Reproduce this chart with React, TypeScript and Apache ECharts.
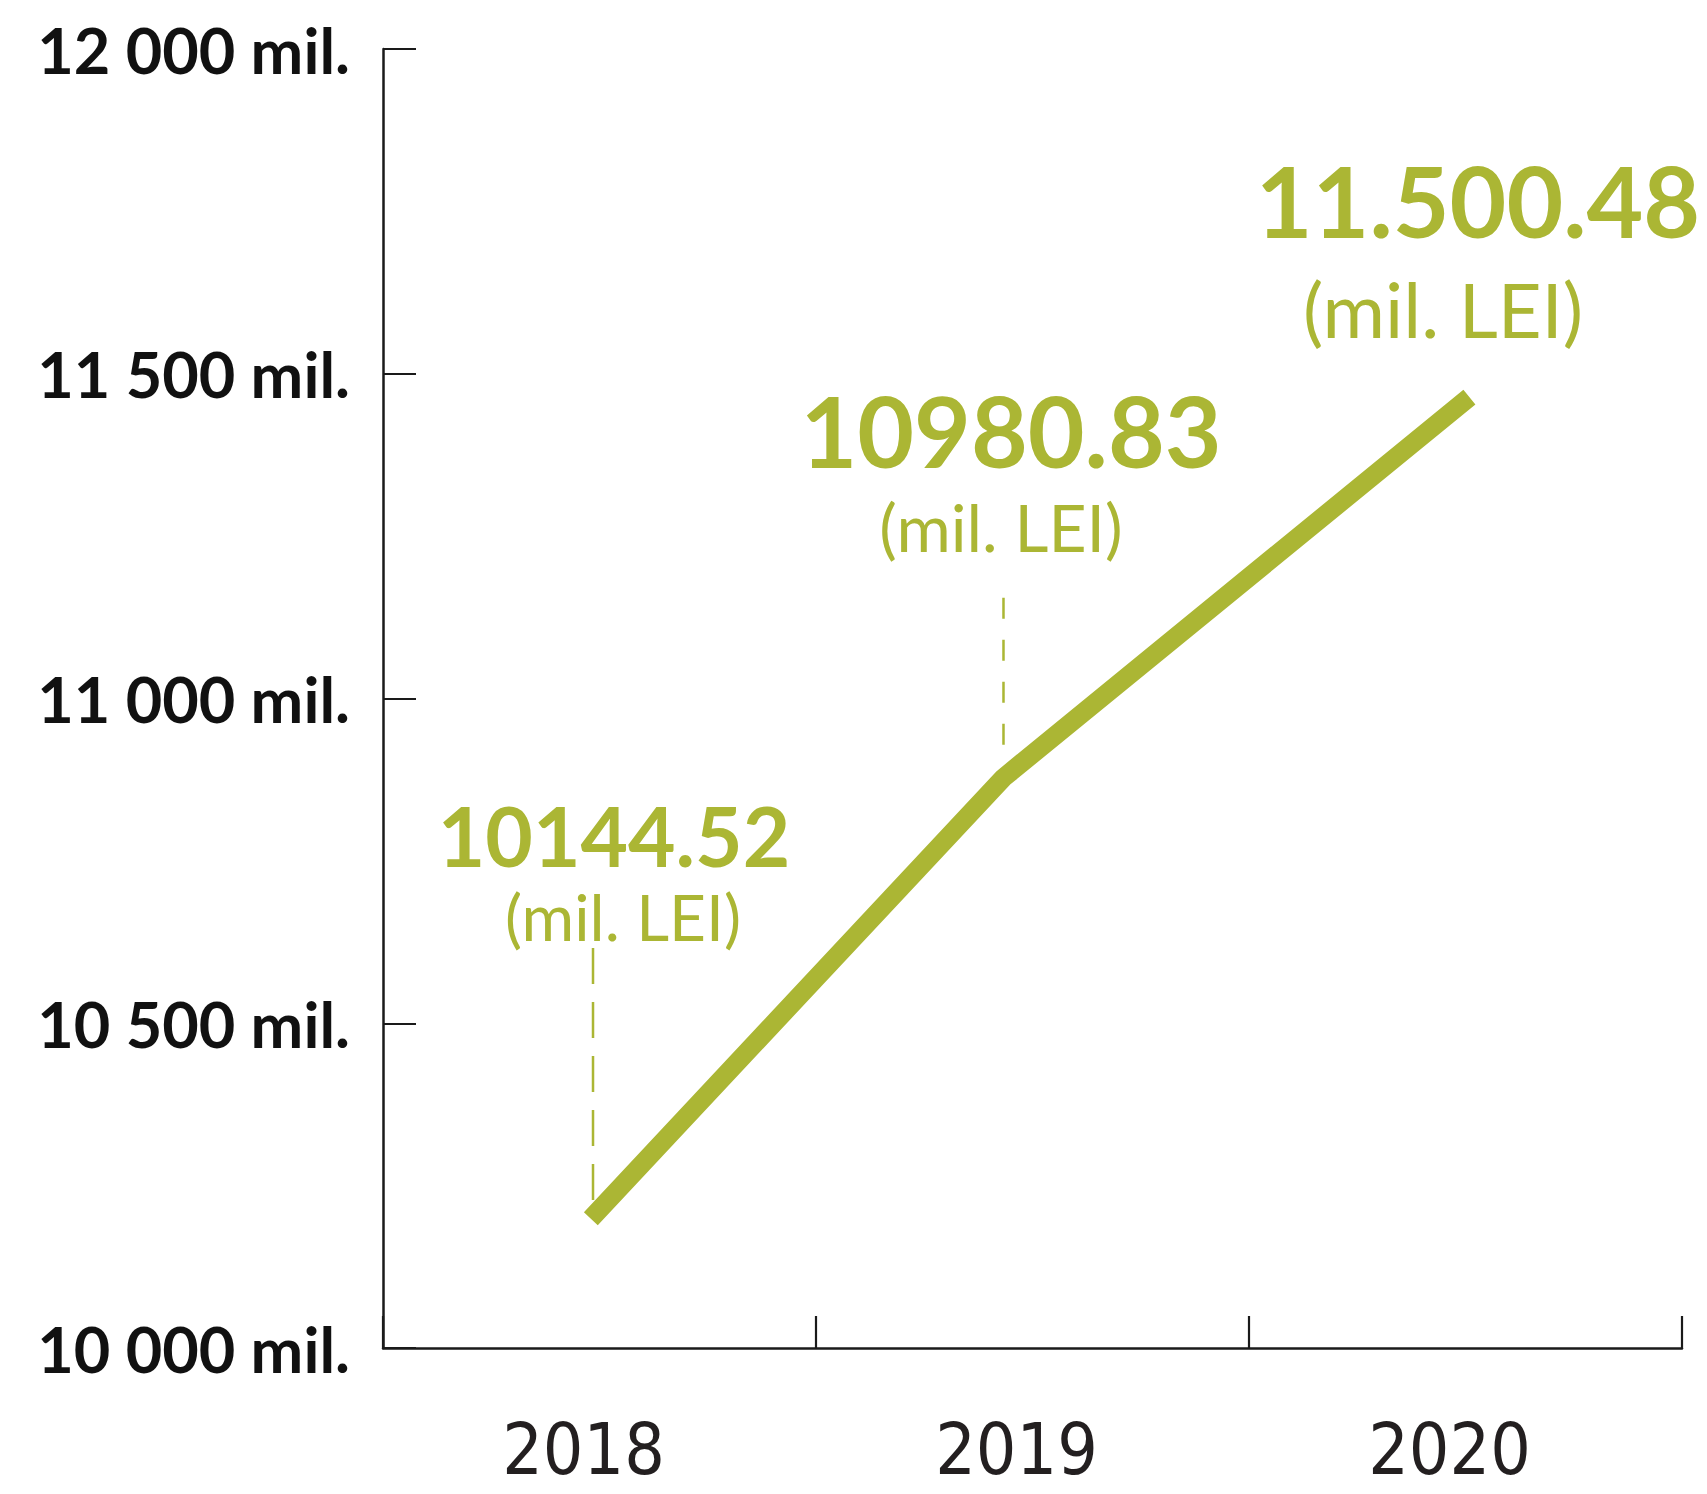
import React, { useEffect, useRef } from "react";
import * as echarts from "echarts";

// ---- data ----
const years = ["2018", "2019", "2020"];
// horizontal position of each yearly point on a hidden 0..3 value axis
const pointPositions = [0.48, 1.433, 2.509];
// vertical values of the drawn line
const lineValues = [10199, 10878, 11464];
// printed value labels
const valueLabels = ["10144.52", "10980.83", "11.500.48"];
const unitLabel = "(mil. LEI)";
// y-axis ticks and labels
const yTicks = [10000, 10500, 11000, 11500, 12000];
const yTickLabels = ["10 000 mil.", "10 500 mil.", "11 000 mil.", "11 500 mil.", "12 000 mil."];
// dashed guide lines (from, to) for 2018 and 2019
const guide2018 = [10228, 10628];
const guide2019 = [11155, 10921];

const GREEN = "#abb634";
const INK = "#1a1a1a";

export default function App() {
  const ref = useRef<HTMLDivElement>(null);

  useEffect(() => {
    if (!ref.current) return;
    const chart = echarts.init(ref.current, null, { renderer: "svg" });

    const option: any = {
      animation: false,
      backgroundColor: "#ffffff",
      grid: { left: 383, top: 49, right: 25, bottom: 146, containLabel: false },
      xAxis: [
        {
          type: "category",
          data: years,
          boundaryGap: true,
          axisLine: { show: true, lineStyle: { color: INK, width: 2.5 } },
          axisTick: { show: true, inside: true, length: 32, lineStyle: { color: INK, width: 2.2 } },
          axisLabel: {
            margin: 74,
            fontFamily: "DejaVu Sans Condensed",
            fontSize: 71,
            lineHeight: 54,
            color: "#231f20",
            padding: [0, 32, 0, 0],
          },
          splitLine: { show: false },
        },
        { type: "value", min: 0, max: 3, show: false },
      ],
      yAxis: {
        type: "value",
        min: yTicks[0],
        max: yTicks[yTicks.length - 1],
        interval: 500,
        axisLine: { show: true, lineStyle: { color: INK, width: 2.5 } },
        axisTick: { show: true, inside: true, length: 33, lineStyle: { color: INK, width: 2.2 } },
        axisLabel: {
          margin: 33,
          fontFamily: "Lato",
          fontWeight: "bold",
          fontSize: 63,
          color: "#111111",
          padding: [0, 0, 8, 0],
          formatter: (v: number) => {
            const i = yTicks.indexOf(v);
            return i >= 0 ? yTickLabels[i] : "";
          },
        },
        splitLine: { show: false },
      },
      series: [
        {
          type: "line",
          xAxisIndex: 1,
          data: guide2018.map((v) => [pointPositions[0] + 0.005, v]),
          symbol: "none",
          lineStyle: { color: GREEN, width: 2.5, type: [36, 18] },
          z: 1,
          silent: true,
        },
        {
          type: "line",
          xAxisIndex: 1,
          data: guide2019.map((v) => [pointPositions[1], v]),
          symbol: "none",
          lineStyle: { color: GREEN, width: 2.5, type: [21, 21] },
          z: 1,
          silent: true,
        },
        {
          type: "line",
          xAxisIndex: 1,
          data: lineValues.map((v, i) => [pointPositions[i], v]),
          symbol: "none",
          lineStyle: { color: GREEN, width: 19, cap: "butt", join: "round" },
          z: 3,
        },
      ],
      graphic: [
        // 2018
        {
          type: "text", x: 614, y: 835,
          style: { text: valueLabels[0], fill: GREEN, font: "bold 82px Lato", textAlign: "center", textVerticalAlign: "middle", align: "center", verticalAlign: "middle" },
        },
        {
          type: "text", x: 623, y: 916,
          style: { text: unitLabel, fill: GREEN, font: "64px Lato", textAlign: "center", textVerticalAlign: "middle", align: "center", verticalAlign: "middle" },
        },
        // 2019
        {
          type: "text", x: 1011, y: 430,
          style: { text: valueLabels[1], fill: GREEN, font: "bold 98px Lato", textAlign: "center", textVerticalAlign: "middle", align: "center", verticalAlign: "middle" },
        },
        {
          type: "text", x: 1001, y: 526,
          style: { text: unitLabel, fill: GREEN, font: "66px Lato", textAlign: "center", textVerticalAlign: "middle", align: "center", verticalAlign: "middle" },
        },
        // 2020
        {
          type: "text", x: 1478, y: 200,
          style: { text: valueLabels[2], fill: GREEN, font: "bold 98px Lato", textAlign: "center", textVerticalAlign: "middle", align: "center", verticalAlign: "middle" },
        },
        {
          type: "text", x: 1443, y: 308,
          style: { text: unitLabel, fill: GREEN, font: "76px Lato", textAlign: "center", textVerticalAlign: "middle", align: "center", verticalAlign: "middle" },
        },
      ],
    };

    chart.setOption(option);
    return () => chart.dispose();
  }, []);

  return (
    <div
      ref={ref}
      style={{ position: "absolute", left: 0, top: 0, width: 1707, height: 1494, background: "#ffffff" }}
    />
  );
}
